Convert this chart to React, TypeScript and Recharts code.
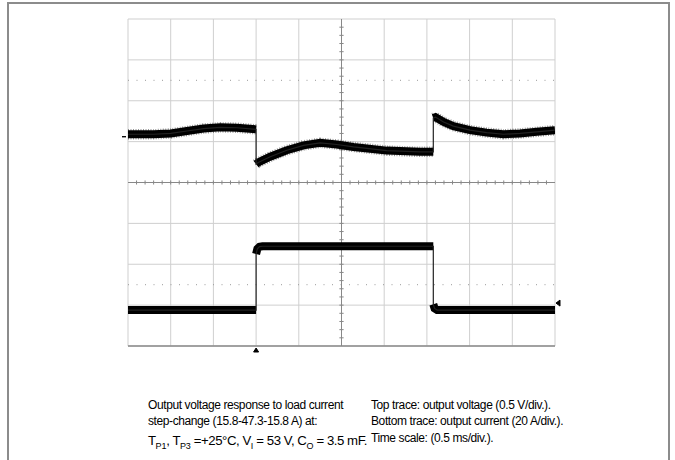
import { LineChart, Line, XAxis, YAxis, CartesianGrid, ReferenceLine, ReferenceDot } from "recharts";

// time in divisions (0.5 ms/div), levels in divisions from the bottom of the screen
const vTime = [0, 0.6, 1.0, 1.38, 1.77, 2.16, 2.55, 3.0, 3.0, 3.05, 3.33, 3.72, 4.11, 4.5, 4.89, 5.28, 6.06, 6.84, 7.15, 7.15, 7.2, 7.39, 7.62, 8.01, 8.4, 8.79, 9.18, 9.57, 10];
const vLevel = [5.18, 5.18, 5.2, 5.26, 5.32, 5.35, 5.34, 5.3, 4.45, 4.49, 4.63, 4.79, 4.91, 4.97, 4.93, 4.87, 4.78, 4.75, 4.75, 5.58, 5.6, 5.48, 5.38, 5.28, 5.22, 5.18, 5.2, 5.24, 5.28];

const iTime = [0, 3.0, 3.0, 3.03, 3.08, 3.15, 7.15, 7.15, 7.18, 7.24, 10];
const iLevel = [0.88, 0.88, 2.25, 2.38, 2.43, 2.44, 2.44, 1.02, 0.92, 0.88, 0.88];

const xTicks = [0, 1, 2, 3, 4, 5, 6, 7, 8, 9, 10];
const yTicks = [0, 1, 2, 3, 4, 5, 6, 7, 8];
const cursorLevels = [6.5, 1.5];

const minorX = Array.from({ length: 49 }, (_, i) => (i + 1) * 0.2).filter((t) => Math.abs(t - 5) > 0.01);
const minorY = Array.from({ length: 39 }, (_, i) => (i + 1) * 0.2).filter((t) => Math.abs(t - 4) > 0.01);

function points(time: number[], level: number[]) {
  return time.map((t, i) => ({ t, v: level[i] }));
}

// same trace but broken at the vertical edges so only the plateaus are thick
function band(time: number[], level: number[]) {
  const out: { t: number; v: number | null }[] = [];
  time.forEach((t, i) => {
    if (i > 0 && t === time[i - 1]) out.push({ t, v: null });
    out.push({ t, v: level[i] });
  });
  return out;
}

const tri = (dir: string) => (p: any) => {
  const { cx, cy } = p;
  let d = "";
  if (dir === "up") d = `M${cx - 2.5},${cy + 6} L${cx + 2.5},${cy + 6} L${cx},${cy + 2} Z`;
  if (dir === "left") d = `M${cx + 1},${cy} L${cx + 5},${cy - 3} L${cx + 5},${cy + 3} Z`;
  if (dir === "right") d = `M${cx - 6},${cy} L${cx - 2},${cy} Z`;
  return <path d={d} fill="#000" stroke="#000" strokeWidth={1} />;
};

const txt: React.CSSProperties = {
  position: "absolute",
  fontFamily: "'Liberation Sans', Arial, sans-serif",
  fontSize: 12,
  letterSpacing: -0.4,
  lineHeight: "17px",
  color: "#000",
  whiteSpace: "nowrap",
};

const sub: React.CSSProperties = { fontSize: 9, letterSpacing: -0.2 };

export default function App() {
  const vData = points(vTime, vLevel);
  const iData = points(iTime, iLevel);
  const vBand = band(vTime, vLevel);
  const iBand = band(iTime, iLevel);
  return (
    <div style={{ position: "absolute", left: 0, top: 0, width: 675, height: 460, overflow: "hidden", background: "#fff" }}>
      <div
        style={{
          position: "absolute",
          left: 7,
          top: 2,
          width: 659,
          height: 480,
          borderLeft: "2px solid #8c8c8c",
          borderTop: "2px solid #8c8c8c",
          borderRight: "2px solid #8c8c8c",
        }}
      />
      <div style={{ position: "absolute", left: 0, top: 0 }}>
        <LineChart width={675} height={360} margin={{ top: 19, left: 128, right: 120, bottom: 14 }}>
          <XAxis dataKey="t" type="number" domain={[0, 10]} ticks={xTicks} hide allowDataOverflow />
          <YAxis dataKey="v" type="number" domain={[0, 8]} ticks={yTicks} hide allowDataOverflow />
          <CartesianGrid stroke="#cfcfcf" strokeWidth={1} />
          <ReferenceLine y={0} stroke="#8a8a8a" strokeWidth={1.5} />
          {cursorLevels.map((y) => (
            <ReferenceLine key={"c" + y} y={y} stroke="#9a9a9a" strokeDasharray="1 7.5" />
          ))}
          <ReferenceLine x={5} stroke="#888" />
          <ReferenceLine y={4} stroke="#888" />
          {minorX.map((t) => (
            <ReferenceLine key={"mx" + t} segment={[{ x: t, y: 3.95 }, { x: t, y: 4.05 }]} stroke="#888" />
          ))}
          {minorY.map((t) => (
            <ReferenceLine key={"my" + t} segment={[{ x: 4.95, y: t }, { x: 5.05, y: t }]} stroke="#888" />
          ))}
          <ReferenceDot x={3} y={0} r={3} ifOverflow="visible" shape={tri("up")} />
          <ReferenceDot x={10} y={1.05} r={3} ifOverflow="visible" shape={tri("left")} />
          <ReferenceDot x={0} y={5.12} r={3} ifOverflow="visible" shape={tri("right")} />

          <Line data={vBand} dataKey="v" stroke="#000" strokeOpacity={0.4} strokeWidth={10.5} strokeDasharray="1 1.5" dot={false} isAnimationActive={false} />
          <Line data={vBand} dataKey="v" stroke="#000" strokeWidth={8} dot={false} isAnimationActive={false} />
          <Line data={vData} dataKey="v" stroke="#222" strokeWidth={1.2} dot={false} isAnimationActive={false} />

          <Line data={iBand} dataKey="v" stroke="#000" strokeWidth={8} dot={false} isAnimationActive={false} />
          <Line data={iData} dataKey="v" stroke="#222" strokeWidth={1.2} dot={false} isAnimationActive={false} />
        </LineChart>
      </div>

      <div style={{ ...txt, left: 148, top: 397 }}>Output voltage response to load current</div>
      <div style={{ ...txt, left: 148, top: 413 }}>step-change (15.8-47.3-15.8 A) at:</div>
      <div style={{ ...txt, left: 148, top: 432, fontSize: 13.2, letterSpacing: -0.45 }}>
        T<sub style={sub}>P1</sub>, T<sub style={sub}>P3</sub> =+25°C, V<sub style={sub}>I</sub> = 53 V, C<sub style={sub}>O</sub> = 3.5 mF.
      </div>
      <div style={{ ...txt, left: 371, top: 397 }}>Top trace: output voltage (0.5 V/div.).</div>
      <div style={{ ...txt, left: 371, top: 413 }}>Bottom trace: output current (20 A/div.).</div>
      <div style={{ ...txt, left: 371, top: 430 }}>Time scale: (0.5 ms/div.).</div>
    </div>
  );
}
